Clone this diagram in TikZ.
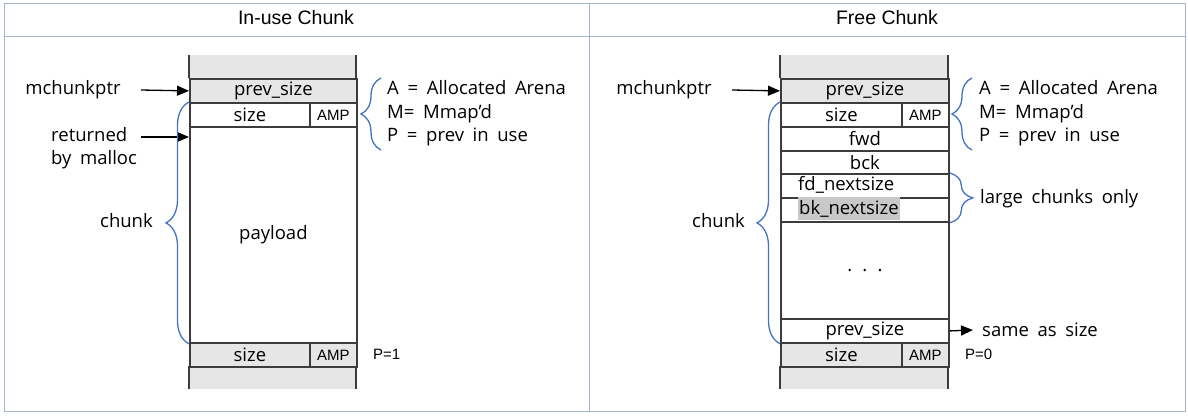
\documentclass[tikz,border=0pt]{standalone}
\usepackage{fontspec}
\setmainfont{Open Sans}[WordSpace=1.8]
\newfontfamily\arialf{Liberation Sans}
\usetikzlibrary{decorations.pathreplacing,arrows.meta}
\definecolor{frame}{RGB}{166,180,206}
\definecolor{cellc}{RGB}{60,60,60}
\definecolor{cellgray}{RGB}{230,230,230}
\definecolor{bracec}{RGB}{68,114,196}
\definecolor{hl}{RGB}{200,200,200}
\begin{document}
\begin{tikzpicture}[x=1pt,y=-1pt,
  cellbox/.style={draw=cellc,line width=1.8pt,inner sep=0pt,anchor=north west,font=\fontsize{18.5}{20}\selectfont},
  ampbox/.style={cellbox,font=\arialf\fontsize{15}{18}\selectfont},
  lbl/.style={inner sep=0pt,font=\fontsize{18.5}{20}\selectfont},
  small/.style={inner sep=0pt,font=\arialf\fontsize{15}{18}\selectfont},
  head/.style={inner sep=0pt,font=\arialf\fontsize{19.5}{22}\selectfont},
  arr/.style={line width=1.3pt,-{Triangle[length=12pt,width=10pt]}},
  brc/.style={draw=bracec,line width=1.3pt,decorate},
  colside/.style={draw=cellc,line width=1.8pt},
]
\useasboundingbox (0,0) rectangle (1188,416);
% frame
\draw[frame,line width=1pt] (4,3) rectangle (1185,411);
\draw[frame,line width=1pt] (4,36) -- (1185,36);
\draw[frame,line width=1pt] (589,3) -- (589,411);
\node[head] (h1) at (296,18) {In-use Chunk};
\node[head] (h2) at (887,18) {Free Chunk};

% ===== left: in-use chunk =====
\fill[cellgray] (189,55) rectangle (356,78);
\fill[cellgray] (189,366) rectangle (356,389);
\draw[colside] (189,55) -- (189,78) (356,55) -- (356,78);
\draw[colside] (189,366) -- (189,389) (356,366) -- (356,389);
\node[cellbox,fill=cellgray,minimum width=167pt,minimum height=24pt] (lps) at (189,78) {prev\_size};
\node[cellbox,minimum width=120pt,minimum height=24pt] (lsz) at (189,102) {size};
\node[ampbox,minimum width=47pt,minimum height=24pt] (lamp) at (309,102) {AMP};
\node[cellbox,minimum width=167pt,minimum height=216pt] (lpl) at (189,126) {payload};
\node[cellbox,fill=cellgray,minimum width=120pt,minimum height=24pt] (lsz2) at (189,342) {size};
\node[ampbox,fill=cellgray,minimum width=47pt,minimum height=24pt] (lamp2) at (309,342) {AMP};

\node[lbl] (lmc) at (73,90) {mchunkptr};
\coordinate (la1) at (141,90);
\draw[arr] (la1) -- (lps.west);
\node[lbl,anchor=west,align=left,font=\fontsize{18.5}{23}\selectfont] (lret) at (51,148.5) {returned\\by malloc};
\coordinate (la2) at (141,137);
\draw[arr] (la2) -- (la2 -| lpl.west);
\node[lbl,anchor=east] (lchunk) at (153,221) {chunk};
\draw[brc,decoration={brace,amplitude=23pt}] (lpl.south west) -- (lsz.north west);
\draw[brc,decoration={brace,amplitude=20pt}] (381,150) -- (381,78);
\node[lbl,anchor=west,align=left,font=\fontsize{18.5}{23.5}\selectfont] (linfo) at (387,113.5) {A = Allocated Arena\\M= Mmap'd\\P = prev in use};
\node[small,anchor=west] (lp1) at (373,354) {P=1};

% ===== right: free chunk =====
\fill[cellgray] (780,55) rectangle (948,78);
\fill[cellgray] (780,366) rectangle (948,389);
\draw[colside] (780,55) -- (780,78) (948,55) -- (948,78);
\draw[colside] (780,366) -- (780,389) (948,366) -- (948,389);
\node[cellbox,fill=cellgray,minimum width=168pt,minimum height=24pt] (rps) at (780,78) {prev\_size};
\node[cellbox,minimum width=121pt,minimum height=24pt] (rsz) at (780,102) {size};
\node[ampbox,minimum width=47pt,minimum height=24pt] (ramp) at (901,102) {AMP};
\node[cellbox,minimum width=168pt,minimum height=24pt] (rfwd) at (780,126) {fwd};
\node[cellbox,minimum width=168pt,minimum height=23pt] (rbck) at (780,150) {bck};
\node[cellbox,minimum width=168pt,minimum height=24pt] (rfdn) at (780,173) {};
\node[cellbox,minimum width=168pt,minimum height=24pt] (rbkn) at (780,197) {};
\node[cellbox,minimum width=168pt,minimum height=97pt] (rdots) at (780,221) {. . .};
\node[cellbox,minimum width=168pt,minimum height=24pt] (rps2) at (780,318) {prev\_size};
\node[cellbox,fill=cellgray,minimum width=121pt,minimum height=24pt] (rsz2) at (780,342) {size};
\node[ampbox,fill=cellgray,minimum width=47pt,minimum height=24pt] (ramp2) at (901,342) {AMP};
\node[lbl,anchor=west] (tfdn) at (798,185) {fd\_nextsize};
\node[lbl,anchor=west,fill=hl,inner xsep=1pt,inner ysep=3pt] (tbkn) at (798,208.5) {bk\_nextsize};

\node[lbl] (rmc) at (664,90) {mchunkptr};
\coordinate (ra1) at (732,90);
\draw[arr] (ra1) -- (rps.west);
\node[lbl,anchor=east] (rchunk) at (745,221) {chunk};
\draw[brc,decoration={brace,amplitude=23pt}] (rps2.south west) -- (rsz.north west);
\draw[brc,decoration={brace,amplitude=20pt}] (972,150) -- (972,78);
\node[lbl,anchor=west,align=left,font=\fontsize{18.5}{23.5}\selectfont] (rinfo) at (979,113.5) {A = Allocated Arena\\M= Mmap'd\\P = prev in use};
\draw[brc,decoration={brace,amplitude=23pt}] (rfdn.north east) -- (rbkn.south east);
\node[lbl,anchor=west] (rlarge) at (980,199) {large chunks only};
\coordinate (ra3) at (973,330);
\draw[arr] (rps2.east) -- (ra3);
\node[lbl,anchor=west] (rsame) at (982,330) {same as size};
\node[small,anchor=west] (rp0) at (965,354) {P=0};
\end{tikzpicture}
\end{document}
